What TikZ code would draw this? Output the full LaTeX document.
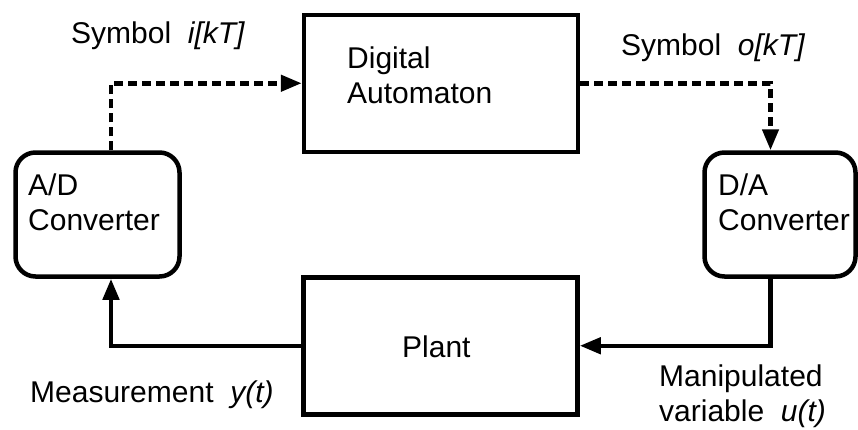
\documentclass[tikz,border=0pt]{standalone}
\usepackage{fontspec}
\setmainfont{Liberation Sans}
\usetikzlibrary{arrows.meta,positioning}

\begin{document}
\begin{tikzpicture}[x=1pt,y=-1pt,
every node/.style={font=\fontsize{30}{35}\selectfont},
every text node part/.style={align=left},
block/.style={draw,line width=4.5pt,minimum width=274pt,minimum height=137pt,inner sep=0pt},
conv/.style={draw,line width=4.5pt,rounded corners=20pt,minimum height=124pt,inner sep=0pt},
lbl/.style={anchor=base west,inner sep=0pt},
sig/.style={line width=4.5pt,-{Triangle[length=21pt,width=16pt]}},
samp/.style={sig,dash pattern=on 9pt off 5pt}]
\useasboundingbox (0,0) rectangle (858,429);
% blocks
\node [block] (auto) at (441,83.25) {};
\node [block] (plant) at (440.5,345.75) {};
\node [conv,minimum width=164pt] (ad) at (97.5,214.5) {};
\node [conv,minimum width=151pt] (da) at (780,214.5) {};
% block texts (base = last line)
\node [lbl] (autotxt) at (347,103) {Digital\\Automaton};
\node [lbl] (adtxt) at (28,230) {A/D\\Converter};
\node [lbl] (datxt) at (718,230) {D/A\\Converter};
\node [lbl] (planttxt) at (402,357) {Plant};
% signals
\draw [samp] ([xshift=13.5pt]ad.north) |- (auto.west);
\draw [samp] (auto.east) -| ([xshift=-9.5pt]da.north);
\draw [sig] ([xshift=-9.5pt]da.south) |- (plant.east);
\draw [sig] (plant.west) -| ([xshift=13.5pt]ad.south);
\node [lbl] (itxt) at (71,43) {Symbol~~\textit{i[kT]}};
\node [lbl] (otxt) at (621,55) {Symbol~~\textit{o[kT]}};
\node [lbl] (ytxt) at (30,402) {Measurement~~\textit{y(t)}};
\node [lbl] (utxt) at (659,421) {Manipulated\\variable~~\textit{u(t)}};
\end{tikzpicture}
\end{document}
